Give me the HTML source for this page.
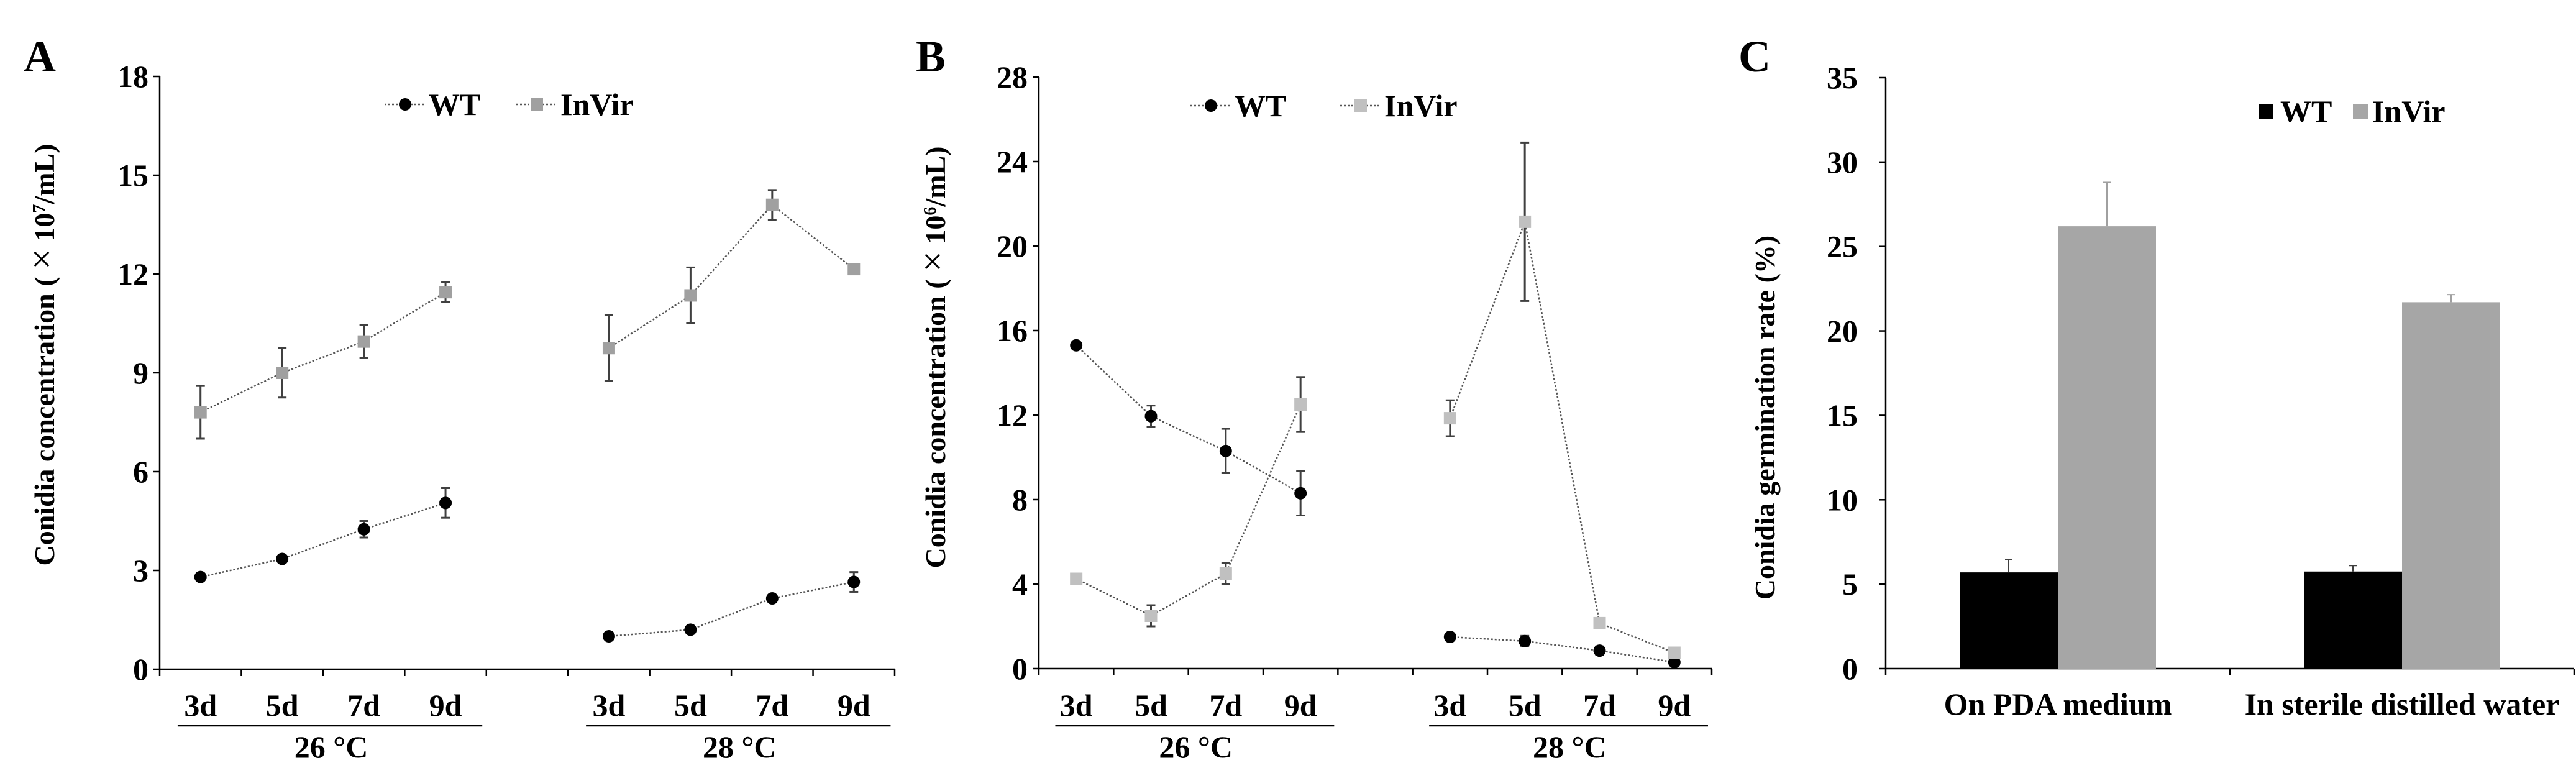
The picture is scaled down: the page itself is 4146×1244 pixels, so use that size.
<!DOCTYPE html>
<html><head><meta charset="utf-8">
<style>
html,body{margin:0;padding:0;background:#fff;}
svg{display:block;font-family:"Liberation Serif",serif;font-weight:bold;}
</style></head>
<body>
<svg id="fig" width="4146" height="1244" viewBox="0 0 4146 1244" xmlns="http://www.w3.org/2000/svg"></svg>
<script>
// ---- Panel A data ----
const aDays = ["3d","5d","7d","9d"];
const aWT26 = [2.8, 3.35, 4.25, 5.05];
const aWT26e = [0.05, 0.05, 0.25, 0.45];
const aWT28 = [1.0, 1.2, 2.15, 2.65];
const aWT28e = [0.05, 0.05, 0.05, 0.3];
const aIV26 = [7.8, 9.0, 9.95, 11.45];
const aIV26e = [0.8, 0.75, 0.5, 0.3];
const aIV28 = [9.75, 11.35, 14.1, 12.15];
const aIV28e = [1.0, 0.85, 0.45, 0.0];
const aTicks = [0,3,6,9,12,15,18];
// ---- Panel B data ----
const bWT26 = [15.3, 11.95, 10.3, 8.3];
const bWT26e = [0.1, 0.5, 1.05, 1.05];
const bWT28 = [1.5, 1.3, 0.85, 0.3];
const bWT28e = [0.1, 0.25, 0.2, 0.05];
const bIV26 = [4.25, 2.5, 4.5, 12.5];
const bIV26e = [0.05, 0.5, 0.5, 1.3];
const bIV28 = [11.85, 21.15, 2.15, 0.75];
const bIV28e = [0.85, 3.75, 0.05, 0.05];
const bTicks = [0,4,8,12,16,20,24,28];
// ---- Panel C data ----
const cCats = ["On PDA medium","In sterile distilled water"];
const cWT = [5.7, 5.75];
const cWTe = [0.75, 0.35];
const cIV = [26.2, 21.7];
const cIVe = [2.6, 0.45];
const cTicks = [0,5,10,15,20,25,30,35];

const svg = document.getElementById('fig');
const NS = "http://www.w3.org/2000/svg";
function mk(tag, attrs, parent){
  const e = document.createElementNS(NS, tag);
  for (const k in attrs) e.setAttribute(k, attrs[k]);
  (parent||svg).appendChild(e);
  return e;
}
function txt(s, attrs, parent){ const e = mk('text', attrs, parent); e.textContent = s; return e; }

function linePanel(cfg){
  const g = mk('g', {});
  
  
  const x0=cfg.x0, x1=cfg.x1, y0=cfg.y0, yT=cfg.yT, max=cfg.max;
  const slot=(x1-x0)/9;
  const Y = v => y0 - v/max*(y0-yT);
  const X = i => x0 + (i+0.5)*slot;
  const L = txt(cfg.letter, {x:cfg.lx, y:115, 'font-size':72}, g);
  
  
  const ya = mk('line',{x1:x0,y1:yT,x2:x0,y2:y0,stroke:'#000','stroke-width':2.5},g);
  
  
  const xa = mk('line',{x1:x0,y1:y0,x2:x1,y2:y0,stroke:'#000','stroke-width':2.5},g);
  
  
  cfg.ticks.forEach(t=>{
    mk('line',{x1:x0-10,y1:Y(t),x2:x0,y2:Y(t),stroke:'#000','stroke-width':2.5},g);
    const tl = txt(String(t),{x:x0-18,y:Y(t)+17,'font-size':50,'text-anchor':'end'},g);
    
    
  });
  for(let i=0;i<=9;i++) mk('line',{x1:x0+i*slot,y1:y0,x2:x0+i*slot,y2:y0+11,stroke:'#000','stroke-width':2.5},g);
  [0,5].forEach((s,gi)=>{
    aDays.forEach((d,j)=>{
      const t = txt(d,{x:X(s+j),y:1152,'font-size':50,'text-anchor':'middle'},g);
      
      
    });
    mk('line',{x1:X(s)-0.28*slot,y1:1168,x2:X(s+3)+0.45*slot,y2:1168,stroke:'#000','stroke-width':2.5},g);
    const gl = txt(gi==0?'26 °C':'28 °C',{x:(X(s)+X(s+3))/2+0.1*slot,y:1219,'font-size':50,'text-anchor':'middle'},g);
    
    
  });
  const yt = txt('Conidia concentration ( ',{transform:`translate(${cfg.ytx},${cfg.yty}) rotate(-90)`,'font-size':46,'text-anchor':'middle'},g);
  const xs = mk('tspan',{'font-size':60,'font-weight':'normal'},yt); xs.textContent='×';
  const t10 = mk('tspan',{},yt); t10.textContent=' 10';
  const sup = mk('tspan',{'baseline-shift':'super','font-size':28},yt); sup.textContent=cfg.exp;
  const rest = mk('tspan',{},yt); rest.textContent='/mL)';
  
  
  function series(vals, errs, start, kind, color, nm){
    const pts = vals.map((v,i)=>[X(start+i),Y(v)]);
    const pl = mk('polyline',{points:pts.map(p=>p.join(',')).join(' '),fill:'none',stroke:'#555','stroke-width':2.5,'stroke-dasharray':'3 3'},g);
    
    
    vals.forEach((v,i)=>{
      const x=X(start+i), e=errs[i];
      if(e>0.06){
        mk('line',{x1:x,y1:Y(v+e),x2:x,y2:Y(v-e),stroke:'#404040','stroke-width':3},g);
        mk('line',{x1:x-7,y1:Y(v+e),x2:x+7,y2:Y(v+e),stroke:'#404040','stroke-width':3},g);
        mk('line',{x1:x-7,y1:Y(v-e),x2:x+7,y2:Y(v-e),stroke:'#404040','stroke-width':3},g);
      }
      let m;
      if(kind==='c') m = mk('circle',{cx:x,cy:Y(v),r:10,fill:color},g);
      else m = mk('rect',{x:x-10,y:Y(v)-10,width:20,height:20,fill:color},g);
      
      
    });
  }
  series(cfg.wt26,cfg.wt26e,0,'c','#000','wt');
  series(cfg.wt28,cfg.wt28e,5,'c','#000','wt');
  series(cfg.iv26,cfg.iv26e,0,'s',cfg.ivc,'invir');
  series(cfg.iv28,cfg.iv28e,5,'s',cfg.ivc,'invir');
  const lg = mk('g',{},g);
  
  
  const ly=cfg.ly;
  mk('line',{x1:cfg.lwx-33,y1:ly,x2:cfg.lwx+33,y2:ly,stroke:'#555','stroke-width':2.5,'stroke-dasharray':'3 3'},lg);
  mk('circle',{cx:cfg.lwx,cy:ly,r:10,fill:'#000'},lg);
  txt('WT',{x:cfg.lwx+38,y:ly+17,'font-size':50},lg);
  mk('line',{x1:cfg.lix-33,y1:ly,x2:cfg.lix+33,y2:ly,stroke:'#555','stroke-width':2.5,'stroke-dasharray':'3 3'},lg);
  mk('rect',{x:cfg.lix-10,y:ly-10,width:20,height:20,fill:cfg.ivc},lg);
  txt('InVir',{x:cfg.lix+38,y:ly+17,'font-size':50},lg);
}

linePanel({name:'panel-a',letter:'A',lx:38,x0:257,x1:1440,y0:1077,yT:123,max:18,ticks:aTicks,
  wt26:aWT26,wt26e:aWT26e,wt28:aWT28,wt28e:aWT28e,iv26:aIV26,iv26e:aIV26e,iv28:aIV28,iv28e:aIV28e,
  ivc:'#a0a0a0',exp:'7',ytx:87,yty:571,ly:168,lwx:652,lix:864});
linePanel({name:'panel-b',letter:'B',lx:1474,x0:1672,x1:2755,y0:1076,yT:124,max:28,ticks:bTicks,
  wt26:bWT26,wt26e:bWT26e,wt28:bWT28,wt28e:bWT28e,iv26:bIV26,iv26e:bIV26e,iv28:bIV28,iv28e:bIV28e,
  ivc:'#c0c0c0',exp:'6',ytx:1521,yty:575,ly:170,lwx:1949,lix:2190});

(function(){
  const g = mk('g',{});
  
  
  const x0=3035,x1=4143,y0=1076,yT=125,max=35;
  const Y=v=>y0-v/max*(y0-yT);
  const slot=(x1-x0)/cCats.length, bw=158;
  const L=txt('C',{x:2798,y:115,'font-size':72},g);
  
  
  const ya=mk('line',{x1:x0,y1:yT,x2:x0,y2:y0,stroke:'#000','stroke-width':2.5},g);
  
  
  const xa=mk('line',{x1:x0,y1:y0,x2:x1,y2:y0,stroke:'#000','stroke-width':2.5},g);
  
  
  cTicks.forEach(t=>{
    mk('line',{x1:x0-10,y1:Y(t),x2:x0,y2:Y(t),stroke:'#000','stroke-width':2.5},g);
    const tl=txt(String(t),{x:x0-45,y:Y(t)+17,'font-size':50,'text-anchor':'end'},g);
    
    
  });
  for(let i=0;i<=cCats.length;i++) mk('line',{x1:x0+i*slot,y1:y0,x2:x0+i*slot,y2:y0+11,stroke:'#000','stroke-width':2.5},g);
  cCats.forEach((c,i)=>{
    const cx=x0+(i+0.5)*slot;
    function bar(v,e,x,col,nm,ec){
      const b=mk('rect',{x:x,y:Y(v),width:bw,height:y0-Y(v),fill:col},g);
      
      
      const bx=x+bw/2;
      mk('line',{x1:bx,y1:Y(v),x2:bx,y2:Y(v+e),stroke:ec,'stroke-width':2},g);
      mk('line',{x1:bx-6,y1:Y(v+e),x2:bx+6,y2:Y(v+e),stroke:ec,'stroke-width':2},g);
    }
    bar(cWT[i],cWTe[i],cx-bw,'#000','bar-wt','#404040');
    bar(cIV[i],cIVe[i],cx,'#a6a6a6','bar-invir','#a0a0a0');
    const t=txt(c,{x:cx,y:1150,'font-size':50,'text-anchor':'middle'},g);
    
    
  });
  const yt=txt('Conidia germination rate (%)',{transform:'translate(2856,672) rotate(-90)','font-size':46,'text-anchor':'middle'},g);
  
  
  const lg=mk('g',{},g);
  
  
  mk('rect',{x:3635,y:167,width:24,height:24,fill:'#000'},lg);
  txt('WT',{x:3670,y:196,'font-size':50},lg);
  mk('rect',{x:3787,y:167,width:24,height:24,fill:'#a6a6a6'},lg);
  txt('InVir',{x:3818,y:196,'font-size':50},lg);
})();
</script>
</body></html>
